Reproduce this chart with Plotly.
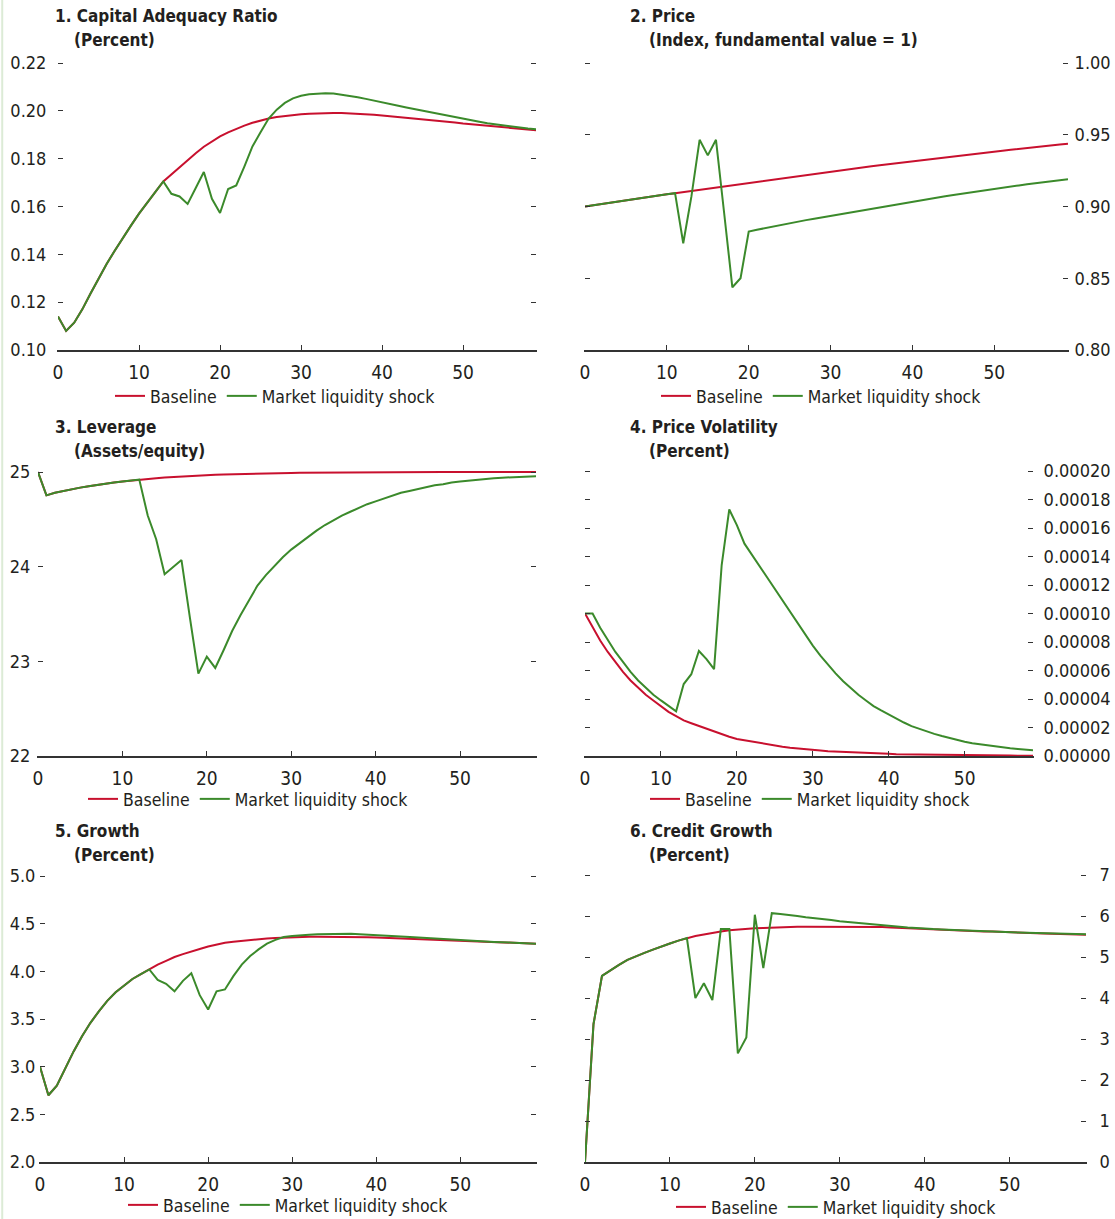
import plotly.graph_objects as go

# ---------------- data ----------------
periods = list(range(60))

cap_base = [0.1140, 0.1080, 0.1114, 0.1170, 0.1235, 0.1300, 0.1360, 0.1415, 0.1470, 0.1520,
            0.1570, 0.1617, 0.1660, 0.1705, 0.1735, 0.1765, 0.1795, 0.1823, 0.1850, 0.1873,
            0.1893, 0.1910, 0.1925, 0.1938, 0.1950, 0.1960, 0.1968, 0.1974, 0.1979, 0.1983,
            0.1986, 0.1988, 0.1990, 0.1991, 0.1991, 0.1991, 0.1990, 0.1988, 0.1986, 0.1984,
            0.1981, 0.1978, 0.1975, 0.1972, 0.1968, 0.1965, 0.1961, 0.1958, 0.1954, 0.1951,
            0.1947, 0.1944, 0.1941, 0.1937, 0.1934, 0.1931, 0.1928, 0.1925, 0.1922, 0.1919]
cap_shock = [0.1140, 0.1080, 0.1114, 0.1170, 0.1235, 0.1300, 0.1360, 0.1415, 0.1470, 0.1520,
             0.1570, 0.1617, 0.1660, 0.1705, 0.1653, 0.1642, 0.1611, 0.1677, 0.1744, 0.1632,
             0.1573, 0.1673, 0.1688, 0.1767, 0.1851, 0.1910, 0.1968, 0.2005, 0.2033, 0.2052,
             0.2063, 0.2069, 0.2072, 0.2074, 0.2072, 0.2068, 0.2063, 0.2057, 0.2050, 0.2042,
             0.2035, 0.2028, 0.2021, 0.2014, 0.2007, 0.2000, 0.1993, 0.1986, 0.1979, 0.1972,
             0.1966, 0.1960, 0.1954, 0.1948, 0.1943, 0.1938, 0.1934, 0.1930, 0.1926, 0.1923]

price_base = [0.9000, 0.9009, 0.9017, 0.9026, 0.9034, 0.9043, 0.9051, 0.9060, 0.9068, 0.9076,
              0.9085, 0.9093, 0.9101, 0.9109, 0.9117, 0.9125, 0.9133, 0.9141, 0.9149, 0.9157,
              0.9165, 0.9173, 0.9181, 0.9189, 0.9197, 0.9205, 0.9213, 0.9220, 0.9228, 0.9235,
              0.9243, 0.9250, 0.9258, 0.9265, 0.9273, 0.9280, 0.9287, 0.9294, 0.9302, 0.9309,
              0.9316, 0.9323, 0.9330, 0.9336, 0.9343, 0.9350, 0.9357, 0.9363, 0.9370, 0.9376,
              0.9383, 0.9389, 0.9395, 0.9402, 0.9408, 0.9414, 0.9420, 0.9426, 0.9432, 0.9438]
price_shock = [0.9000, 0.9009, 0.9017, 0.9026, 0.9034, 0.9043, 0.9051, 0.9060, 0.9068, 0.9076,
               0.9085, 0.9093, 0.8744, 0.9070, 0.9465, 0.9356, 0.9465, 0.8953, 0.8437, 0.8500,
               0.8826, 0.8838, 0.8850, 0.8861, 0.8872, 0.8883, 0.8894, 0.8905, 0.8915, 0.8925,
               0.8935, 0.8945, 0.8955, 0.8965, 0.8975, 0.8985, 0.8995, 0.9005, 0.9015, 0.9025,
               0.9035, 0.9044, 0.9053, 0.9062, 0.9071, 0.9080, 0.9089, 0.9097, 0.9106, 0.9114,
               0.9123, 0.9131, 0.9139, 0.9147, 0.9155, 0.9162, 0.9169, 0.9176, 0.9183, 0.9190]

lev_base = [25.000, 24.753, 24.780, 24.800, 24.820, 24.835, 24.850, 24.865, 24.880, 24.890,
            24.900, 24.910, 24.920, 24.928, 24.935, 24.942, 24.948, 24.953, 24.958, 24.963,
            24.967, 24.971, 24.974, 24.977, 24.980, 24.982, 24.984, 24.986, 24.988, 24.989,
            24.990, 24.991, 24.992, 24.993, 24.994, 24.995, 24.995, 24.996, 24.996, 24.997,
            24.997, 24.998, 24.998, 24.998, 24.999, 24.999, 24.999, 24.999, 25.000, 25.000,
            25.000, 25.000, 25.000, 25.000, 25.000, 25.000, 25.000, 25.000, 25.000, 25.000]
lev_shock = [25.000, 24.753, 24.780, 24.800, 24.820, 24.835, 24.850, 24.865, 24.880, 24.890,
             24.900, 24.910, 24.920, 24.540, 24.290, 23.920, 23.990, 24.070, 23.460, 22.870,
             23.050, 22.930, 23.120, 23.320, 23.490, 23.650, 23.800, 23.910, 24.010, 24.100,
             24.180, 24.250, 24.320, 24.380, 24.440, 24.490, 24.540, 24.580, 24.620, 24.660,
             24.690, 24.720, 24.750, 24.780, 24.800, 24.820, 24.840, 24.860, 24.870, 24.890,
             24.900, 24.910, 24.920, 24.930, 24.935, 24.940, 24.945, 24.950, 24.953, 24.956]

vol_base = [10.0e-5, 9.0e-5, 8.1e-5, 7.3e-5, 6.6e-5, 5.9e-5, 5.3e-5, 4.8e-5, 4.3e-5, 3.9e-5,
            3.5e-5, 3.1e-5, 2.8e-5, 2.5e-5, 2.3e-5, 2.1e-5, 1.9e-5, 1.7e-5, 1.5e-5, 1.35e-5,
            1.2e-5, 1.1e-5, 1.0e-5, 0.9e-5, 0.8e-5, 0.72e-5, 0.65e-5, 0.58e-5, 0.52e-5, 0.47e-5,
            0.42e-5, 0.38e-5, 0.34e-5, 0.31e-5, 0.28e-5, 0.25e-5, 0.22e-5, 0.20e-5, 0.18e-5, 0.16e-5,
            0.15e-5, 0.13e-5, 0.12e-5, 0.11e-5, 0.10e-5, 0.09e-5, 0.08e-5, 0.07e-5, 0.065e-5, 0.06e-5,
            0.05e-5, 0.047e-5, 0.042e-5, 0.038e-5, 0.034e-5, 0.03e-5, 0.028e-5, 0.025e-5, 0.022e-5, 0.02e-5]
vol_shock = [10.0e-5, 10.0e-5, 9.0e-5, 8.1e-5, 7.3e-5, 6.6e-5, 5.9e-5, 5.3e-5, 4.8e-5, 4.3e-5,
             3.9e-5, 3.5e-5, 3.14e-5, 5.05e-5, 5.74e-5, 7.37e-5, 6.8e-5, 6.1e-5, 13.4e-5, 17.3e-5,
             16.2e-5, 14.9e-5, 14.1e-5, 13.3e-5, 12.5e-5, 11.7e-5, 10.9e-5, 10.1e-5, 9.3e-5, 8.5e-5,
             7.75e-5, 7.05e-5, 6.4e-5, 5.8e-5, 5.25e-5, 4.75e-5, 4.3e-5, 3.9e-5, 3.5e-5, 3.2e-5,
             2.9e-5, 2.6e-5, 2.35e-5, 2.1e-5, 1.9e-5, 1.7e-5, 1.55e-5, 1.4e-5, 1.25e-5, 1.12e-5,
             1.0e-5, 0.9e-5, 0.82e-5, 0.74e-5, 0.67e-5, 0.6e-5, 0.54e-5, 0.49e-5, 0.44e-5, 0.4e-5]

growth_base = [3.000, 2.700, 2.800, 2.980, 3.160, 3.320, 3.460, 3.580, 3.690, 3.780,
               3.850, 3.920, 3.970, 4.020, 4.070, 4.110, 4.150, 4.180, 4.210, 4.235,
               4.260, 4.280, 4.300, 4.310, 4.320, 4.330, 4.340, 4.345, 4.350, 4.355,
               4.360, 4.362, 4.363, 4.364, 4.364, 4.364, 4.363, 4.362, 4.360, 4.358,
               4.355, 4.352, 4.349, 4.346, 4.343, 4.340, 4.336, 4.333, 4.329, 4.325,
               4.322, 4.318, 4.314, 4.311, 4.307, 4.304, 4.300, 4.297, 4.294, 4.290]
growth_shock = [3.000, 2.700, 2.800, 2.980, 3.160, 3.320, 3.460, 3.580, 3.690, 3.780,
                3.850, 3.920, 3.970, 4.020, 3.910, 3.870, 3.790, 3.900, 3.980, 3.750,
                3.600, 3.790, 3.810, 3.950, 4.070, 4.160, 4.230, 4.290, 4.330, 4.360,
                4.370, 4.380, 4.385, 4.390, 4.392, 4.395, 4.395, 4.393, 4.390, 4.386,
                4.380, 4.375, 4.370, 4.365, 4.360, 4.354, 4.348, 4.343, 4.338, 4.333,
                4.328, 4.323, 4.318, 4.313, 4.309, 4.305, 4.301, 4.297, 4.294, 4.290]

credit_base = [0.000, 3.360, 4.540, 4.680, 4.810, 4.930, 5.020, 5.100, 5.180, 5.260,
               5.330, 5.400, 5.460, 5.510, 5.550, 5.590, 5.620, 5.650, 5.670, 5.690,
               5.700, 5.710, 5.720, 5.730, 5.735, 5.740, 5.740, 5.740, 5.740, 5.740,
               5.740, 5.740, 5.740, 5.740, 5.735, 5.730, 5.720, 5.710, 5.700, 5.695,
               5.690, 5.680, 5.670, 5.660, 5.650, 5.640, 5.630, 5.625, 5.620, 5.610,
               5.600, 5.595, 5.590, 5.580, 5.575, 5.570, 5.560, 5.555, 5.550, 5.545]
credit_shock = [0.000, 3.360, 4.540, 4.680, 4.810, 4.930, 5.020, 5.100, 5.180, 5.260,
                5.330, 5.400, 5.460, 4.000, 4.360, 3.950, 5.680, 5.680, 2.650, 3.040,
                6.030, 4.730, 6.070, 6.050, 6.030, 6.000, 5.970, 5.950, 5.920, 5.900,
                5.870, 5.850, 5.830, 5.810, 5.790, 5.770, 5.750, 5.740, 5.720, 5.710,
                5.690, 5.680, 5.670, 5.660, 5.650, 5.640, 5.630, 5.620, 5.610, 5.605,
                5.600, 5.595, 5.590, 5.585, 5.580, 5.575, 5.570, 5.565, 5.560, 5.555]

series_names = ["Baseline", "Market liquidity shock"]
x_ticks = [0, 10, 20, 30, 40, 50]
cap_ticks = [0.10, 0.12, 0.14, 0.16, 0.18, 0.20, 0.22]
price_ticks = [0.80, 0.85, 0.90, 0.95, 1.00]
lev_ticks = [22, 23, 24, 25]
vol_ticks = [0.0, 0.00002, 0.00004, 0.00006, 0.00008, 0.00010, 0.00012, 0.00014, 0.00016, 0.00018, 0.00020]
growth_ticks = [2.0, 2.5, 3.0, 3.5, 4.0, 4.5, 5.0]
credit_ticks = [0, 1, 2, 3, 4, 5, 6, 7]

# ---------------- styling / layout ----------------
W, H = 1115, 1219
FONT = "Liberation Sans Narrow, Arial Narrow, DejaVu Sans Condensed, Roboto, sans-serif"
INK = "#231f20"
RED = "#C8102E"
GREEN = "#3B8A2B"
PAD = 3  # px of breathing room so that the top end ticks are drawn

panels = [
    dict(t1="1. Capital Adequacy Ratio", t2="(Percent)", base=cap_base, shock=cap_shock,
         yr=[0.10, 0.22], tv=cap_ticks, fmt=".2f", side="left", so=7,
         box=(58, 536, 63, 350), tx=(53, 16), leg=(110, 396)),
    dict(t1="2. Price", t2="(Index, fundamental value = 1)", base=price_base, shock=price_shock,
         yr=[0.80, 1.00], tv=price_ticks, fmt=".2f", side="right", so=2,
         box=(585, 1068, 63, 350), tx=(628, 16), leg=(656, 396)),
    dict(t1="3. Leverage", t2="(Assets/equity)", base=lev_base, shock=lev_shock,
         yr=[22, 25], tv=lev_ticks, fmt="d", side="left", so=3,
         box=(38, 536, 472, 756), tx=(53, 427), leg=(83, 799)),
    dict(t1="4. Price Volatility", t2="(Percent)", base=vol_base, shock=vol_shock,
         yr=[0, 0.0002], tv=vol_ticks, fmt=".5f", side="right", so=6,
         box=(585, 1033, 471, 756), tx=(628, 427), leg=(645, 799)),
    dict(t1="5. Growth", t2="(Percent)", base=growth_base, shock=growth_shock,
         yr=[2.0, 5.0], tv=growth_ticks, fmt=".1f", side="left", so=0,
         box=(40, 536, 876, 1162), tx=(53, 831), leg=(123, 1205)),
    dict(t1="6. Credit Growth", t2="(Percent)", base=credit_base, shock=credit_shock,
         yr=[0, 7], tv=credit_ticks, fmt="d", side="right", so=9,
         box=(585, 1086, 875, 1162), tx=(628, 831), leg=(671, 1207)),
]

fig = go.Figure()
layout = dict(
    width=W, height=H, margin=dict(l=0, r=0, t=0, b=0, autoexpand=False),
    paper_bgcolor="white", plot_bgcolor="white",
    font=dict(family=FONT, size=18, color=INK),
    annotations=[], shapes=[],
)

for i, p in enumerate(panels, start=1):
    sfx = "" if i == 1 else str(i)
    xa, ya = "x" + sfx, "y" + sfx
    leg_name = "legend" + sfx
    x0, x1, yt, yb = p["box"]
    lo, hi = p["yr"]
    # extend the top of the value range and the domain by PAD pixels, keeping the scale
    y_top_val = hi + (hi - lo) * PAD / (yb - yt)
    for name, vals, col in ((series_names[0], p["base"], RED), (series_names[1], p["shock"], GREEN)):
        fig.add_trace(go.Scatter(
            x=periods, y=vals, mode="lines", name=name,
            line=dict(color=col, width=2), xaxis=xa, yaxis=ya,
            legend=leg_name, hoverinfo="skip", cliponaxis=False))
    layout["xaxis" + sfx] = dict(
        domain=[x0 / W, x1 / W], anchor=ya, range=[0, 59],
        tickvals=x_ticks, ticks="inside", ticklen=5, tickwidth=1.2, tickcolor="#333",
        showline=True, linecolor="#333", linewidth=1.5, showgrid=False, zeroline=False,
        tickfont=dict(family=FONT, size=19, color=INK), ticklabelstandoff=4)
    layout["yaxis" + sfx] = dict(
        domain=[1 - yb / H, 1 - (yt - PAD) / H], anchor=xa, range=[lo, y_top_val],
        tickvals=p["tv"], tickformat=p["fmt"], side=p["side"],
        ticks="inside", ticklen=5, tickwidth=1.2, tickcolor="#333",
        showline=True, linecolor="rgba(0,0,0,0)", mirror="ticks",
        showgrid=False, zeroline=False,
        tickfont=dict(family=FONT, size=18, color=INK), ticklabelstandoff=p["so"])
    layout[leg_name] = dict(
        orientation="h", x=p["leg"][0] / W, y=1 - p["leg"][1] / H,
        xanchor="left", yanchor="middle", xref="paper", yref="paper",
        font=dict(family=FONT, size=17.5, color=INK), itemwidth=30,
        bgcolor="rgba(0,0,0,0)", traceorder="normal")
    tx, ty = p["tx"]
    layout["annotations"].append(dict(
        text="<b>" + p["t1"] + "</b>", x=tx / W, y=1 - ty / H, xref="paper", yref="paper",
        xanchor="left", yanchor="middle", showarrow=False,
        font=dict(family=FONT, size=17, color=INK)))
    layout["annotations"].append(dict(
        text="<b>" + p["t2"] + "</b>", x=(tx + 19) / W, y=1 - (ty + 24) / H, xref="paper", yref="paper",
        xanchor="left", yanchor="middle", showarrow=False,
        font=dict(family=FONT, size=17, color=INK)))

# thin pale border at the left edge of the page
layout["shapes"].append(dict(type="line", xref="paper", yref="paper", x0=0.002, x1=0.002, y0=0, y1=1,
                             line=dict(color="#dcebd6", width=2)))

fig.update_layout(**layout)
fig.write_html("out.html", config={"displayModeBar": False})

# remove the default page margin so the figure sits at the window's top-left corner
with open("out.html", "r", encoding="utf-8") as fh:
    html = fh.read()
html = html.replace("<body>", '<body style="margin:0;padding:0;overflow:hidden">', 1)
with open("out.html", "w", encoding="utf-8") as fh:
    fh.write(html)
